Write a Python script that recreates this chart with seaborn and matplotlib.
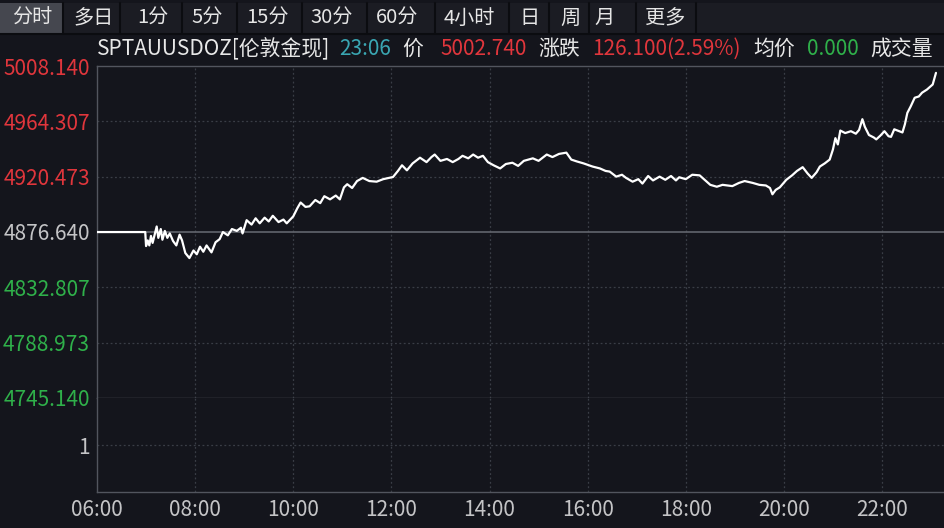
import matplotlib
matplotlib.use("Agg")
import matplotlib.pyplot as plt
from matplotlib.patches import Rectangle
import seaborn as sns
import pandas as pd
import numpy as np

# ---------------- data ----------------
times = ["06:00","06:59","07:00","07:02","07:04","07:06","07:08","07:11","07:13","07:15",
         "07:18","07:20","07:23","07:26","07:29","07:33","07:37","07:41","07:44","07:48",
         "07:53","07:58","08:02","08:06","08:10","08:14","08:20","08:25","08:30","08:34",
         "08:40","08:45","08:51","08:56","08:58","09:03","09:09","09:14","09:19","09:25",
         "09:30","09:35","09:42","09:48","09:52","10:00","10:05","10:09","10:15","10:20",
         "10:27","10:33","10:38","10:45","10:52","10:57","11:02","11:06","11:12","11:18",
         "11:25","11:33","11:42","11:50","12:02","12:08","12:13","12:19","12:26","12:35",
         "12:43","12:49","12:53","13:00","13:08","13:15","13:22","13:27","13:34","13:40",
         "13:46","13:52","13:58","14:05","14:13","14:20","14:28","14:35","14:42","14:53",
         "15:00","15:10","15:17","15:25","15:34","15:40","15:47","15:55","16:06","16:15",
         "16:22","16:27","16:35","16:42","16:47","16:55","17:02","17:07","17:14","17:20",
         "17:28","17:35","17:42","17:48","17:52","18:00","18:08","18:17","18:24","18:30",
         "18:38","18:45","18:57","19:05","19:12","19:22","19:30","19:38","19:43","19:46",
         "19:50","19:55","20:03","20:10","20:16","20:23","20:29","20:34","20:40","20:44",
         "20:50","20:56","21:00","21:03","21:06","21:09","21:15","21:22","21:28","21:32",
         "21:36","21:39","21:44","21:50","21:53","21:58","22:03","22:08","22:11","22:15",
         "22:19","22:25","22:28","22:31","22:35","22:40","22:45","22:49","22:55","23:02",
         "23:04","23:06"]
prices = [4876.6,4876.6,4865.5,4870.0,4866.0,4873.5,4868.0,4876.0,4881.0,4872.0,
          4879.0,4870.5,4877.5,4872.0,4875.5,4869.5,4866.0,4874.5,4870.0,4860.0,
          4856.0,4862.0,4859.0,4865.0,4861.0,4866.0,4860.5,4868.5,4871.0,4876.6,
          4874.0,4879.0,4877.5,4880.0,4875.5,4886.0,4882.5,4887.5,4883.5,4888.0,
          4885.0,4889.5,4884.5,4886.5,4883.5,4889.0,4895.5,4900.0,4896.5,4897.0,
          4902.0,4899.5,4905.0,4902.5,4905.5,4902.5,4912.0,4914.5,4911.5,4917.0,
          4919.5,4917.0,4916.5,4918.5,4920.2,4925.0,4929.5,4925.5,4931.0,4935.5,
          4932.0,4936.0,4938.0,4933.0,4934.5,4932.0,4934.5,4937.0,4935.0,4938.0,
          4935.5,4937.0,4932.0,4929.5,4927.0,4930.5,4931.5,4929.0,4933.0,4935.0,
          4933.0,4938.0,4936.0,4938.5,4939.5,4934.0,4932.5,4931.0,4928.5,4927.0,
          4925.0,4924.5,4920.5,4922.0,4919.5,4916.5,4918.5,4915.0,4921.0,4917.5,
          4920.5,4918.0,4921.0,4917.5,4920.0,4918.5,4922.0,4921.5,4917.5,4914.0,
          4912.5,4914.0,4913.0,4915.5,4917.0,4915.5,4914.0,4913.5,4911.5,4906.5,
          4910.0,4912.0,4918.0,4921.5,4925.0,4928.0,4923.0,4919.5,4924.0,4928.5,
          4931.0,4934.0,4942.0,4951.0,4946.0,4957.0,4955.0,4956.5,4954.5,4957.5,
          4966.0,4960.0,4953.5,4951.5,4950.0,4953.0,4956.5,4952.5,4952.0,4958.0,
          4957.0,4955.5,4962.0,4971.0,4976.0,4983.0,4984.0,4987.0,4989.5,4993.5,
          4998.0,5002.7]

price_ticks = [5008.140, 4964.307, 4920.473, 4876.640, 4832.807, 4788.973, 4745.140]
price_tick_labels = ["5008.140", "4964.307", "4920.473", "4876.640", "4832.807", "4788.973", "4745.140"]
prev_close = 4876.640
hour_ticks = [6, 8, 10, 12, 14, 16, 18, 20, 22]
hour_labels = ["06:00", "08:00", "10:00", "12:00", "14:00", "16:00", "18:00", "20:00", "22:00"]
tabs = ["分时", "多日", "1分", "5分", "15分", "30分", "60分", "4小时", "日", "周", "月", "更多"]

# ---------------- style ----------------
BG = "#14151c"
TABBG = "#1b1c23"
GRID = "#3a3d46"
AXIS = "#52555e"
RED = "#e0363c"
GREEN = "#2fb04a"
GRAY = "#c4c4c6"
WHITE = "#e8e8e8"
TEAL = "#3aa6b2"
FS = 15

sns.set_style("dark")
plt.rcParams["font.family"] = ["Noto Sans CJK SC", "DejaVu Sans"]

W, H = 944, 528
fig = plt.figure(figsize=(W / 100, H / 100), dpi=100, facecolor=BG)

def fx(x): return x / W
def fy(y): return 1 - y / H

# tab bar
fig.patches.append(Rectangle((0, fy(33)), 1, fy(3) - fy(33), transform=fig.transFigure,
                             facecolor=TABBG, edgecolor="none", zorder=0))
fig.patches.append(Rectangle((0, fy(33)), fx(63), fy(3) - fy(33), transform=fig.transFigure,
                             facecolor="#45474f", edgecolor="none", zorder=1))
seps = [63, 120, 182, 237, 302, 367, 435, 509, 549, 589, 636, 696]
for s in seps:
    fig.add_artist(plt.Line2D([fx(s), fx(s)], [fy(33), fy(3)], transform=fig.transFigure,
                              color="#0b0c10", lw=1.5))
fig.add_artist(plt.Line2D([0, 1], [fy(33.5), fy(33.5)], transform=fig.transFigure,
                          color="#0b0c10", lw=1.5))
tab_x = [32, 94, 153, 207, 267, 332, 397, 469, 529, 570, 605, 665]
for t, x in zip(tabs, tab_x):
    fig.text(fx(x), fy(18.5), t, ha="center", va="center", fontsize=14.5, color="#e6e6e6")

# title line
title_parts = [("SPTAUUSDOZ[伦敦金现]", 97, WHITE), ("23:06", 339, TEAL), ("价", 402, WHITE),
               ("5002.740", 440, RED), ("涨跌", 538, WHITE), ("126.100(2.59%)", 592, RED),
               ("均价", 753, WHITE), ("0.000", 807, GREEN), ("成交量", 870, WHITE)]
for txt, x, c in title_parts:
    fig.text(fx(x), fy(49), txt, ha="left", va="center", fontsize=FS, color=c)

# ---------------- price axes ----------------
df = pd.DataFrame({"time": times, "price": prices})
df["hour"] = df["time"].str.slice(0, 2).astype(int) + df["time"].str.slice(3, 5).astype(int) / 60

x_left, x_right = 97, 944
px_per_hour = (882 - 97) / 16
xmax = 6 + (x_right - x_left) / px_per_hour

ax = fig.add_axes([fx(97), fy(398), fx(847), fy(66) - fy(398)])
ax.set_facecolor(BG)
sns.lineplot(data=df, x="hour", y="price", ax=ax, color="white", lw=1.6,
             estimator=None, sort=False, zorder=5)
ax.set_xlim(6, xmax)
ax.set_ylim(price_ticks[-1], price_ticks[0])
ax.set_yticks(price_ticks)
ax.set_yticklabels(price_tick_labels)
ax.set_xticks([])
ax.set_xlabel("")
ax.set_ylabel("")
ax.tick_params(axis="y", length=0, pad=5, labelsize=FS)
for lab, v in zip(ax.get_yticklabels(), price_ticks):
    if abs(v - prev_close) < 1e-6:
        lab.set_color(GRAY)
    elif v > prev_close:
        lab.set_color(RED)
    else:
        lab.set_color(GREEN)
ax.grid(False)
for v in price_ticks[1:-1]:
    if abs(v - prev_close) < 1e-6:
        ax.axhline(v, color="#62656d", lw=1.2, zorder=2)
    else:
        ax.axhline(v, color=GRID, lw=0.9, ls=(0, (1.5, 2)), zorder=1)
for h in hour_ticks[1:]:
    ax.axvline(h, color=GRID, lw=0.9, ls=(0, (1.5, 2)), zorder=1)
ax.spines["right"].set_visible(False)
for side in ["left", "top", "bottom"]:
    ax.spines[side].set_color(AXIS)
    ax.spines[side].set_linewidth(1.0)

# ---------------- volume axes ----------------
ax2 = fig.add_axes([fx(97), fy(492), fx(847), fy(398) - fy(492)])
ax2.set_facecolor(BG)
ax2.set_xlim(6, xmax)
ax2.set_ylim(0, 2)
ax2.set_yticks([1])
ax2.set_yticklabels(["1"])
ax2.set_xticks(hour_ticks)
ax2.set_xticklabels(hour_labels)
ax2.tick_params(axis="y", length=0, pad=5, labelsize=FS, labelcolor=GRAY)
ax2.tick_params(axis="x", length=0, pad=5, labelsize=FS, labelcolor=GRAY)
ax2.grid(False)
ax2.axhline(1, color=GRID, lw=0.9, ls=(0, (1.5, 2)), zorder=1)
for h in hour_ticks[1:]:
    ax2.axvline(h, color=GRID, lw=0.9, ls=(0, (1.5, 2)), zorder=1)
ax2.spines["right"].set_visible(False)
ax2.spines["top"].set_visible(False)
for side in ["left", "bottom"]:
    ax2.spines[side].set_color(AXIS)
    ax2.spines[side].set_linewidth(1.0)

fig.savefig("out.png", dpi=100, facecolor=BG)
